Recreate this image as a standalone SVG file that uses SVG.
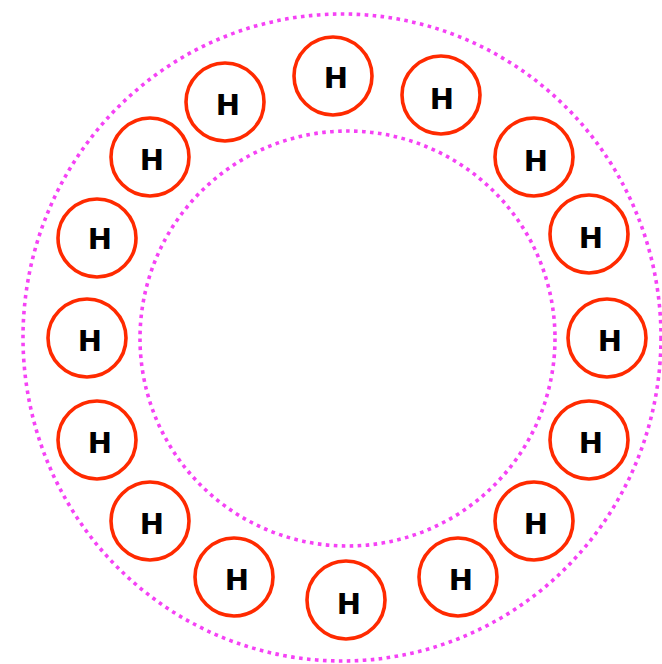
<svg xmlns="http://www.w3.org/2000/svg" width="662" height="664" viewBox="0 0 662 664">
<style>
.ring{fill:none;stroke:#f542f5;stroke-width:3.6;stroke-dasharray:3.6 4.4}
.atom circle{fill:#fff;stroke:#ff2a00;stroke-width:3.6}
.atom text{font-family:"DejaVu Sans",sans-serif;font-weight:bold;font-size:29px;fill:#000;text-anchor:middle}
</style>
<rect width="662" height="664" fill="#fff"/>
<g id="rings">
<ellipse id="outer" class="ring" cx="342" cy="337.5" rx="319" ry="323.5"/>
<circle id="inner" class="ring" cx="347.5" cy="338.5" r="207.5"/>
</g>
<g id="connectors"></g>
<g id="h1" class="atom"><circle cx="333" cy="76" r="39"/><text x="336" y="88">H</text></g>
<g id="h2" class="atom"><circle cx="441" cy="95" r="39"/><text x="442" y="109">H</text></g>
<g id="h3" class="atom"><circle cx="534" cy="157" r="39"/><text x="536" y="171">H</text></g>
<g id="h4" class="atom"><circle cx="589" cy="234" r="39"/><text x="591" y="248">H</text></g>
<g id="h5" class="atom"><circle cx="607" cy="338" r="39"/><text x="610" y="351">H</text></g>
<g id="h6" class="atom"><circle cx="589" cy="440" r="39"/><text x="591" y="453">H</text></g>
<g id="h7" class="atom"><circle cx="534" cy="521" r="39"/><text x="536" y="534">H</text></g>
<g id="h8" class="atom"><circle cx="458" cy="577" r="39"/><text x="461" y="590">H</text></g>
<g id="h9" class="atom"><circle cx="346" cy="600" r="39"/><text x="349" y="614">H</text></g>
<g id="h10" class="atom"><circle cx="234" cy="577" r="39"/><text x="237" y="590">H</text></g>
<g id="h11" class="atom"><circle cx="150" cy="521" r="39"/><text x="152" y="534">H</text></g>
<g id="h12" class="atom"><circle cx="97" cy="440" r="39"/><text x="100" y="453">H</text></g>
<g id="h13" class="atom"><circle cx="87" cy="338" r="39"/><text x="90" y="351">H</text></g>
<g id="h14" class="atom"><circle cx="97" cy="238" r="39"/><text x="100" y="249">H</text></g>
<g id="h15" class="atom"><circle cx="150" cy="157" r="39"/><text x="152" y="170">H</text></g>
<g id="h16" class="atom"><circle cx="225" cy="102" r="39"/><text x="228" y="115">H</text></g>
</svg>
